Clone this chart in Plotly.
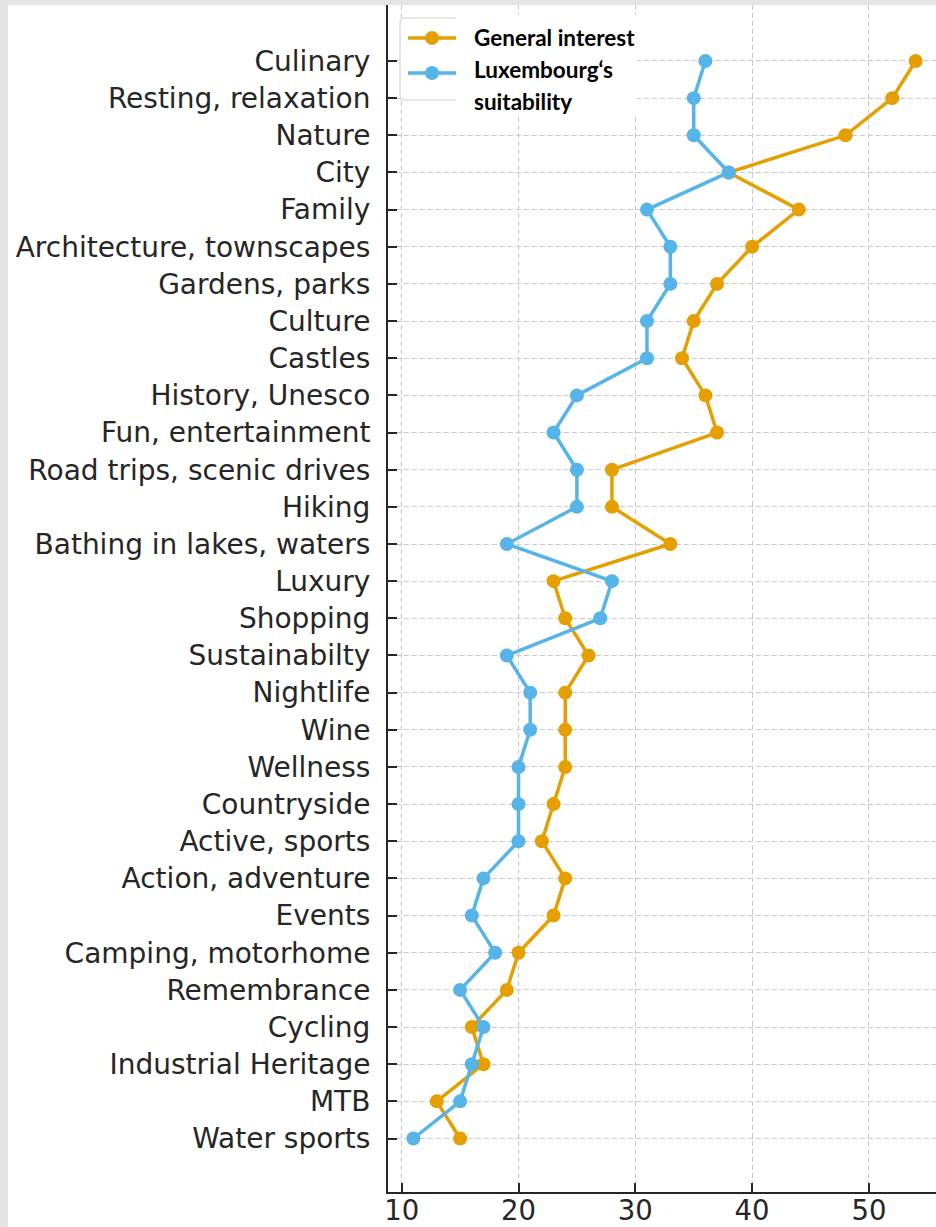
import plotly.graph_objects as go

# Travel themes, top to bottom
themes = [
    "Culinary", "Resting, relaxation", "Nature", "City", "Family",
    "Architecture, townscapes", "Gardens, parks", "Culture", "Castles",
    "History, Unesco", "Fun, entertainment", "Road trips, scenic drives",
    "Hiking", "Bathing in lakes, waters", "Luxury", "Shopping",
    "Sustainabilty", "Nightlife", "Wine", "Wellness", "Countryside",
    "Active, sports", "Action, adventure", "Events", "Camping, motorhome",
    "Remembrance", "Cycling", "Industrial Heritage", "MTB", "Water sports",
]

general_interest = [
    54, 52, 48, 38, 44, 40, 37, 35, 34, 36, 37, 28, 28, 33, 23,
    24, 26, 24, 24, 24, 23, 22, 24, 23, 20, 19, 16, 17, 13, 15,
]

lux_suitability = [
    36, 35, 35, 38, 31, 33, 33, 31, 31, 25, 23, 25, 25, 19, 28,
    27, 19, 21, 21, 20, 20, 20, 17, 16, 18, 15, 17, 16, 15, 11,
]

x_ticks = [10, 20, 30, 40, 50]

ORANGE = "#E69F00"
BLUE = "#56B4E9"
INK = "#262626"
GRID = "#c9c9c9"

W, H = 936, 1227
L, R, T, B = 388, 0, 5, 35
PW, PH = W - L - R, H - T - B


def px(x):
    return (x - L) / PW


def py(y):
    return 1 - (y - T) / PH


fig = go.Figure()
fig.add_trace(go.Scatter(
    x=general_interest, y=themes, mode="lines+markers",
    name="General interest",
    line=dict(color=ORANGE, width=3.5),
    marker=dict(color=ORANGE, size=14),
))
fig.add_trace(go.Scatter(
    x=lux_suitability, y=themes, mode="lines+markers",
    name="Luxembourg‘s suitability",
    line=dict(color=BLUE, width=3.5),
    marker=dict(color=BLUE, size=14),
))

shapes = []
# legend frame (rounded)
bx0, bx1, by0, by1, r = 400, 470, 18, 100, 5
path = (
    f"M {px(bx0 + r)},{py(by0)} L {px(bx1)},{py(by0)} L {px(bx1)},{py(by1)} "
    f"L {px(bx0 + r)},{py(by1)} Q {px(bx0)},{py(by1)} {px(bx0)},{py(by1 - r)} "
    f"L {px(bx0)},{py(by0 + r)} Q {px(bx0)},{py(by0)} {px(bx0 + r)},{py(by0)} Z"
)
shapes.append(dict(type="path", path=path, xref="paper", yref="paper",
                   fillcolor="white", line=dict(color="#d4d4d4", width=1.2),
                   layer="above"))
for color, yy in [(ORANGE, 38), (BLUE, 73)]:
    shapes.append(dict(type="line", xref="paper", yref="paper",
                       x0=px(408), x1=px(458), y0=py(yy), y1=py(yy),
                       line=dict(color=color, width=3.5), layer="above"))
    shapes.append(dict(type="circle", xref="paper", yref="paper",
                       x0=px(432 - 7), x1=px(432 + 7),
                       y0=py(yy - 7), y1=py(yy + 7),
                       fillcolor=color, line=dict(color=color, width=0),
                       layer="above"))
# white panel behind the legend labels
shapes.append(dict(type="rect", xref="paper", yref="paper",
                   x0=px(456), x1=px(637), y0=py(15), y1=py(116),
                   fillcolor="white", line=dict(width=0), layer="above"))
# light grey page frame (top and left)
shapes.append(dict(type="rect", xref="paper", yref="paper",
                   x0=px(0), x1=px(8), y0=py(H), y1=py(0),
                   fillcolor="#e4e4e4", line=dict(width=0), layer="above"))
shapes.append(dict(type="rect", xref="paper", yref="paper",
                   x0=px(0), x1=px(W), y0=py(5), y1=py(0),
                   fillcolor="#e4e4e4", line=dict(width=0), layer="above"))

legend_font = dict(family="Lato", size=22.5, color="black", weight="bold")
annotations = [
    dict(text="<b>General interest</b>", x=px(472), y=py(37)),
    dict(text="<b>Luxembourg‘s</b>", x=px(472), y=py(69)),
    dict(text="<b>suitability</b>", x=px(472), y=py(101)),
]
for a in annotations:
    a.update(xref="paper", yref="paper", xanchor="left", yanchor="middle",
             showarrow=False, font=legend_font)

fig.update_layout(
    width=W, height=H,
    margin=dict(l=L, r=R, t=T, b=B, pad=0, autoexpand=False),
    paper_bgcolor="white", plot_bgcolor="white",
    showlegend=False,
    shapes=shapes,
    annotations=annotations,
    font=dict(family="DejaVu Sans", color=INK),
)
fig.update_xaxes(
    range=[8.827, 55.745], tickvals=x_ticks, automargin=False,
    ticks="inside", ticklen=9, tickwidth=2, tickcolor=INK,
    showline=True, linecolor=INK, linewidth=2, mirror=False,
    showgrid=True, gridcolor=GRID, gridwidth=1, griddash="5px,3px",
    zeroline=False, tickfont=dict(size=27.5, color=INK, family="DejaVu Sans"),
    ticklabelstandoff=-7,
)
fig.update_yaxes(
    type="category", categoryorder="array", categoryarray=themes,
    range=[30.44, -1.507], automargin=False,
    ticks="inside", ticklen=9, tickwidth=2, tickcolor=INK,
    showline=True, linecolor=INK, linewidth=2, mirror=False,
    showgrid=True, gridcolor=GRID, gridwidth=1, griddash="5px,3px",
    zeroline=False, tickfont=dict(size=28, color=INK, family="DejaVu Sans"),
    ticklabelstandoff=10,
)

fig.write_html("out.html")
